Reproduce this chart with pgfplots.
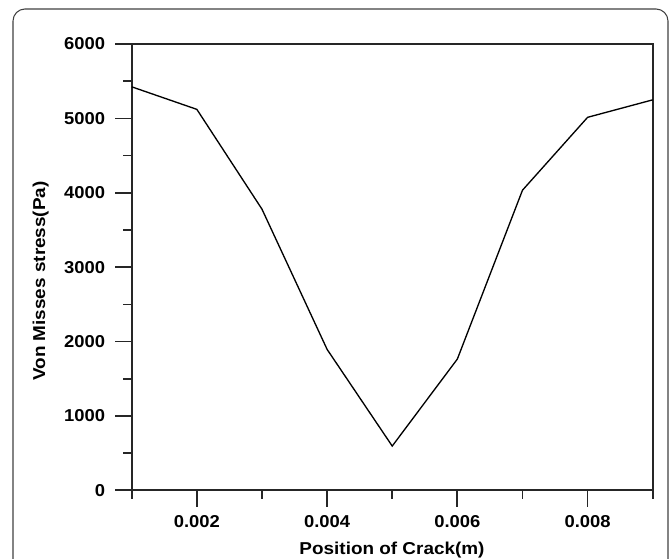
\documentclass[border=0pt]{standalone}
\usepackage{pgfplots}
\pgfplotsset{compat=1.18}
\usepackage{fontspec}
\setmainfont{Liberation Sans}
\newfontfamily\tickfont[FakeStretch=1.07]{Liberation Sans}
\newfontfamily\labfont[FakeStretch=1.1]{Liberation Sans}
\begin{document}
\begin{tikzpicture}
\useasboundingbox (0,0) rectangle (504pt,419.25pt);
\draw[black!75, line width=0.8pt, rounded corners=9pt] (9.75pt,-30pt) rectangle (501pt,412.5pt);
\begin{axis}[
  at={(98.8pt,51.5pt)}, anchor=south west,
  scale only axis,
  width=390.75pt, height=334.7pt,
  xmin=0.001, xmax=0.009, ymin=0, ymax=6000,
  axis line style={line width=1.3pt, black!85},
  tick pos=left, tick align=outside,
  xtick={0.002,0.004,0.006,0.008},
  xticklabels={\textbf{0.002},\textbf{0.004},\textbf{0.006},\textbf{0.008}},
  minor xtick={0.001,0.003,0.005,0.007,0.009},
  ytick={0,1000,2000,3000,4000,5000,6000},
  yticklabels={\textbf{0},\textbf{1000},\textbf{2000},\textbf{3000},\textbf{4000},\textbf{5000},\textbf{6000}},
  minor ytick={500,1500,2500,3500,4500,5500},
  scaled x ticks=false, scaled y ticks=false,
  major tick length=12.5pt, minor tick length=6.5pt,
  every tick/.style={line width=1.3pt, black!85},
  every minor tick/.style={line width=1.3pt, black!85},
  tick label style={font=\tickfont\fontsize{12.9}{15}\selectfont\bfseries},
  xticklabel style={anchor=north, yshift=-3pt},
  yticklabel style={anchor=east, xshift=-4pt},
  clip=false,
]
\addplot[black, line width=1pt] coordinates {
  (0.001,5425) (0.002,5122) (0.003,3780) (0.004,1895) (0.005,595)
  (0.006,1765) (0.007,4035) (0.008,5015) (0.009,5250)
};
\end{axis}
\node[anchor=base, font=\labfont\fontsize{12.9}{15}\selectfont\bfseries] at (294pt,3pt) {Position of Crack(m)};
\node[anchor=base, rotate=90, font=\labfont\fontsize{12.9}{15}\selectfont\bfseries] at (33.75pt,208.5pt) {Von Misses stress(Pa)};
\end{tikzpicture}
\end{document}
